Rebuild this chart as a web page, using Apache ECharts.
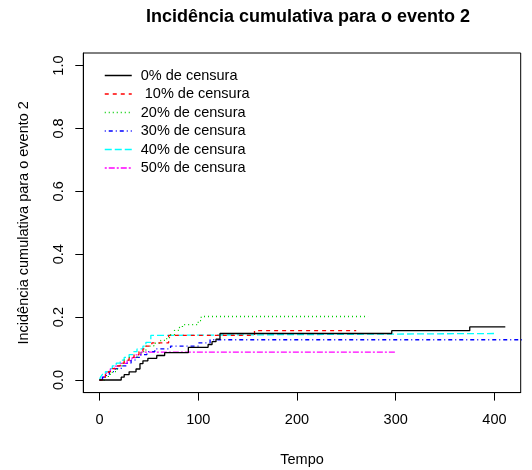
<!DOCTYPE html>
<html>
<head>
<meta charset="utf-8">
<script src="https://cdn.jsdelivr.net/npm/echarts@6/dist/echarts.min.js"></script>
<style>
  html, body { margin: 0; padding: 0; background: #fff; }
  #chart { width: 532px; height: 470px; }
</style>
</head>
<body>
<div id="chart"></div>
<script>
// Cumulative incidence step curves for event 2, one per censoring level.
// Each curve is a list of [time, cumulative incidence] jump points.
const seriesNames = ['0% de censura', ' 10% de censura', '20% de censura',
                     '30% de censura', '40% de censura', '50% de censura'];

const cens0 = [[0,0],[22,0.009],[25,0.017],[30,0.026],[37,0.035],[41,0.052],[44,0.061],
               [49,0.069],[58,0.078],[66,0.087],[90,0.104],[110,0.113],[114,0.122],
               [118,0.130],[122,0.148],[296,0.157],[375,0.169],[411,0.169]];
const cens10 = [[0,0],[3,0.009],[6,0.018],[9,0.027],[13,0.036],[17,0.045],[21,0.054],
                [25,0.063],[30,0.072],[35,0.081],[40,0.090],[44,0.099],[47,0.108],
                [53,0.118],[70,0.142],[157,0.157],[260,0.157]];
const cens20 = [[0,0],[5,0.009],[9,0.018],[13,0.027],[18,0.045],[24,0.063],[30,0.072],
                [38,0.081],[42,0.090],[47,0.108],[55,0.117],[62,0.126],[68,0.135],
                [72,0.144],[76,0.158],[81,0.167],[84,0.176],[100,0.189],[103,0.202],
                [272,0.202]];
const cens30 = [[0,0],[3,0.009],[7,0.018],[10,0.027],[16,0.036],[22,0.045],[28,0.054],
                [32,0.063],[36,0.072],[42,0.081],[48,0.090],[56,0.099],[72,0.108],
                [100,0.118],[112,0.128],[440,0.128]];
const cens40 = [[0,0],[1,0.009],[3,0.018],[6,0.027],[10,0.036],[13,0.045],[17,0.054],
                [21,0.063],[25,0.072],[30,0.081],[34,0.090],[38,0.099],[44,0.108],
                [47,0.120],[52,0.142],[62,0.148],[400,0.148]];
const cens50 = [[0,0],[3,0.009],[6,0.018],[8,0.027],[11,0.036],[15,0.044],[21,0.053],
                [28,0.062],[33,0.071],[37,0.080],[42,0.089],[301,0.089]];

const curves = [cens0, cens10, cens20, cens30, cens40, cens50];

const xTicks = [0, 100, 200, 300, 400];
const yTicks = [0, 0.2, 0.4, 0.6, 0.8, 1.0];

// R-like palette and line types (solid, dashed, dotted, dotdash, longdash, twodash)
const colors = ['#000000', '#ff0000', '#00cd00', '#0000ff', '#00ffff', '#ff00ff'];
const dashes = ['solid', [4, 4], [1, 3], [1, 3, 4, 3], [7, 3], [2, 2, 6, 2]];

const FONT = '"Liberation Sans", Arial, sans-serif';

const chart = echarts.init(document.getElementById('chart'), null, { renderer: 'canvas' });

chart.setOption({
  animation: false,
  backgroundColor: '#ffffff',
  title: {
    text: 'Incidência cumulativa para o evento 2',
    left: 303,
    textAlign: 'center',
    top: 3,
    textStyle: { fontFamily: FONT, fontSize: 18, fontWeight: 'bold', color: '#000' }
  },
  legend: {
    orient: 'vertical',
    left: 99,
    top: 63,
    itemWidth: 27,
    itemHeight: 12,
    itemGap: 3.5,
    data: seriesNames,
    itemStyle: { opacity: 0 },
    lineStyle: { width: 1.5 },
    textStyle: { fontFamily: FONT, fontSize: 14.5, color: '#000', padding: [0, 0, 0, 4] }
  },
  grid: {
    left: 83.3,
    right: 11.3,
    top: 53,
    bottom: 77.4,
    outerBoundsMode: 'none',
    containLabel: false,
    show: true,
    borderColor: '#000',
    borderWidth: 1
  },
  xAxis: {
    type: 'value',
    min: -16.4,
    max: 426.6,
    name: 'Tempo',
    nameLocation: 'middle',
    nameGap: 60,
    nameTextStyle: { fontFamily: FONT, fontSize: 14.5, color: '#000' },
    splitLine: { show: false },
    axisLine: { show: true, onZero: false, lineStyle: { color: '#000' } },
    axisTick: { show: true, inside: false, length: 8, customValues: xTicks, lineStyle: { color: '#000' } },
    axisLabel: { customValues: xTicks, margin: 20, fontFamily: FONT, fontSize: 14.5, color: '#000',
                 formatter: v => String(v) }
  },
  yAxis: {
    type: 'value',
    min: -0.04,
    max: 1.04,
    name: 'Incidência cumulativa para o evento 2',
    nameLocation: 'middle',
    nameGap: 52,
    nameTextStyle: { fontFamily: FONT, fontSize: 14.5, color: '#000' },
    splitLine: { show: false },
    axisLine: { show: true, onZero: false, lineStyle: { color: '#000' } },
    axisTick: { show: true, inside: false, length: 8, customValues: yTicks, lineStyle: { color: '#000' } },
    axisLabel: { customValues: yTicks, rotate: 90, margin: 17, fontFamily: FONT, fontSize: 14.5,
                 color: '#000', formatter: v => v.toFixed(1) }
  },
  series: curves.map((d, i) => ({
    name: seriesNames[i],
    type: 'line',
    step: 'end',
    data: d,
    symbol: 'none',
    showSymbol: false,
    clip: true,
    color: colors[i],
    lineStyle: { color: colors[i], width: 1.3, type: dashes[i] },
    z: 10 - i
  }))
});
</script>
</body>
</html>
